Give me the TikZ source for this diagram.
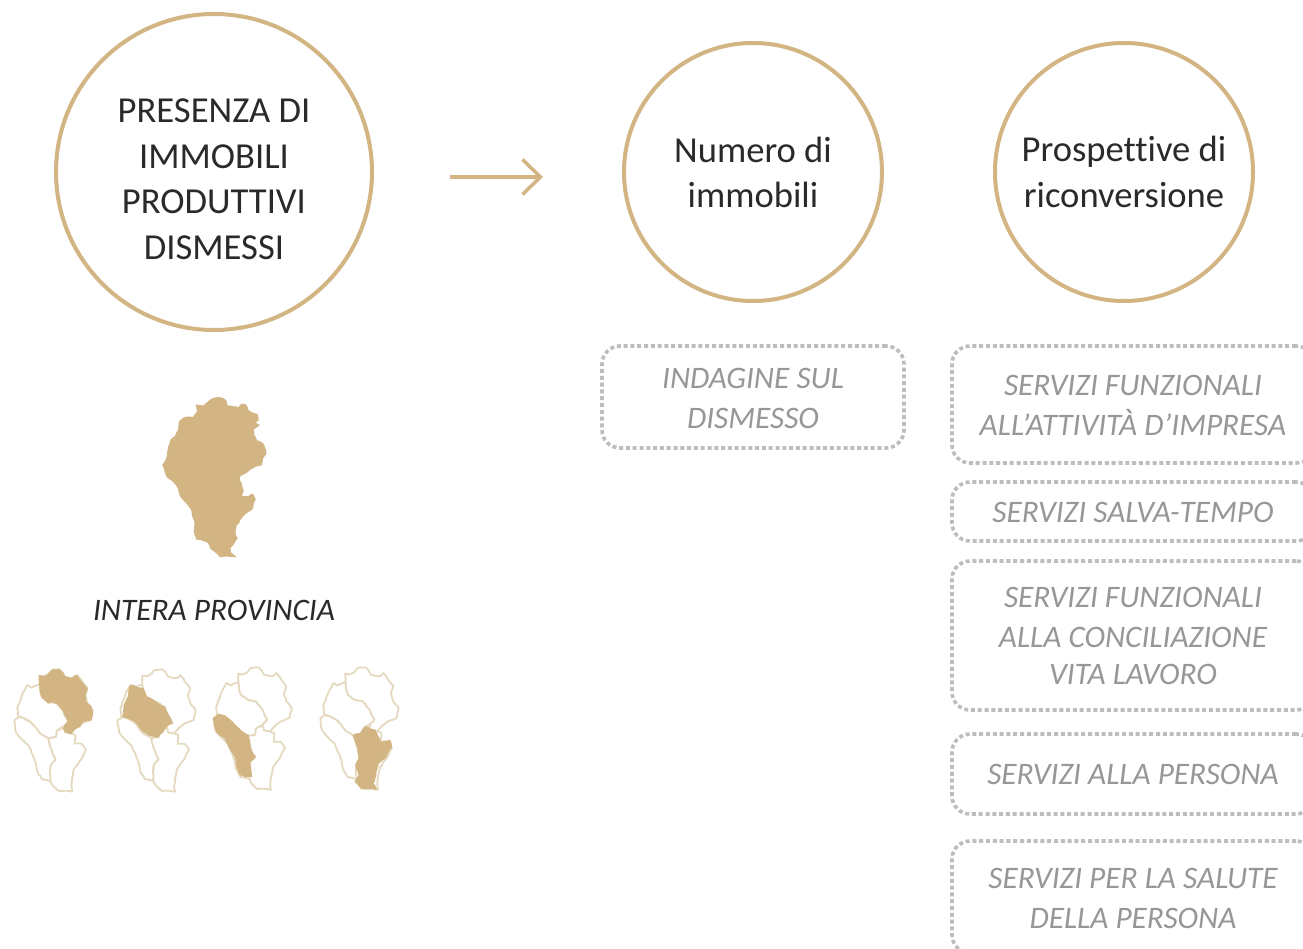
\documentclass[tikz,border=0pt]{standalone}
\usepackage{fontspec}
\setmainfont{Carlito}[Ligatures=NoCommon]
\usetikzlibrary{shapes.misc,arrows.meta,decorations.pathmorphing}
\definecolor{tan}{HTML}{D2B583}
\definecolor{tanline}{HTML}{E5DAC0}
\definecolor{dotgray}{HTML}{BDBDBD}
\definecolor{softgray}{HTML}{979797}
\definecolor{softblack}{HTML}{2A2A2A}
\tikzset{
  ringnode/.style={circle,draw=tan,line width=4pt,inner sep=0pt},
  ringtext/.style={align=center,text=softblack,font=\fontsize{36.6}{45.5}\selectfont},
  dotbox/.style={rectangle,rounded corners=18pt,draw=dotgray,line width=3.6pt,dash pattern=on 4pt off 2.8pt,inner sep=0pt},
  boxtext/.style={solid,draw=none,yshift=-1.5pt,align=center,text=softgray,font=\fontsize{31.3}{40}\selectfont\itshape},
  tanarrow/.style={draw=tan,line width=3.5pt,-{Straight Barb[length=18pt,width=35pt,line width=3.5pt]}},
  rough/.style={decorate,decoration={random steps,segment length=3pt,amplitude=0.4pt}},
  mapfill/.style={fill=tan,draw=tan,line width=0.8pt,line join=round,rough},
  mapline/.style={draw=tanline,line width=1.8pt,line join=round,fill=white,rough},
  fillscope/.style={x=0.3333pt,y=-0.3333pt},
}
% outlines of the small maps, in a common local system
\def\regionNE{(118,62)--(132,64)--(145,58)--(155,45)--(178,43)--(188,52)--(195,65)--(212,70)--(225,68)--(232,60)--(242,72)--(250,85)--(262,100)--(255,120)--(262,145)--(278,165)--(272,195)--(245,205)--(232,215)--(225,222)--(212,237)--(195,232)--(190,222)--(192,213)--(205,200)--(196,185)--(190,170)--(178,155)--(170,145)--(145,140)--(125,125)--(120,110)--(118,88)--cycle}
\def\regionNW{(118,88)--(105,92)--(95,98)--(82,90)--(68,115)--(60,138)--(52,160)--(55,185)--(72,190)--(90,200)--(105,215)--(120,235)--(145,250)--(168,246)--(170,228)--(192,213)--(205,200)--(196,185)--(190,170)--(178,155)--(170,145)--(145,140)--(125,125)--(120,110)--cycle}
\def\regionSW{(43,196)--(58,186)--(72,190)--(90,200)--(105,215)--(120,235)--(145,250)--(150,272)--(158,295)--(167,315)--(153,328)--(150,350)--(156,380)--(145,376)--(125,372)--(112,350)--(106,320)--(86,272)--(65,252)--(48,232)--cycle}
\def\regionSE{(145,250)--(168,246)--(170,228)--(183,221)--(192,218)--(195,232)--(212,235)--(226,240)--(224,266)--(245,266)--(258,284)--(243,314)--(222,342)--(216,372)--(214,392)--(216,410)--(195,407)--(176,408)--(160,394)--(152,380)--(150,350)--(153,328)--(167,315)--(158,295)--(150,272)--cycle}
% filled shapes
\def\fillBig{(205,65)--(215,57)--(235,52)--(250,55)--(258,62)--(262,78)--(280,80)--(295,83)--(305,72)--(318,75)--(325,92)--(340,100)--(352,103)--(355,120)--(345,128)--(358,135)--(340,148)--(342,165)--(350,182)--(368,190)--(375,205)--(378,222)--(368,235)--(365,255)--(345,260)--(330,268)--(315,280)--(300,288)--(298,300)--(305,315)--(310,332)--(305,350)--(325,350)--(338,342)--(346,358)--(340,370)--(338,385)--(325,395)--(312,405)--(300,420)--(288,440)--(285,458)--(292,475)--(282,490)--(270,503)--(272,518)--(288,530)--(262,528)--(240,530)--(225,515)--(212,505)--(205,488)--(185,480)--(170,478)--(162,455)--(165,430)--(158,410)--(155,390)--(135,365)--(120,345)--(115,325)--(100,305)--(82,292)--(75,275)--(68,255)--(80,235)--(85,205)--(92,180)--(105,170)--(115,150)--(118,125)--(135,112)--(160,112)--(172,95)--(168,75)--(190,78)--cycle}
\def\fillNE{(118,62)--(135,65)--(150,52)--(160,44)--(178,44)--(190,55)--(195,65)--(215,70)--(228,60)--(238,72)--(248,85)--(262,100)--(256,120)--(258,140)--(272,152)--(278,168)--(274,195)--(250,200)--(240,215)--(225,222)--(212,237)--(198,232)--(190,222)--(195,210)--(205,200)--(195,180)--(190,168)--(175,148)--(160,140)--(145,145)--(125,125)--(120,105)--cycle}
\def\fillNW{(388,95)--(400,90)--(415,98)--(430,100)--(440,125)--(460,135)--(480,150)--(495,155)--(505,180)--(518,205)--(500,213)--(490,230)--(472,248)--(450,242)--(430,230)--(405,200)--(385,190)--(368,185)--(372,150)--(385,125)--cycle}
\def\fillSW{(25,190)--(40,178)--(60,182)--(75,195)--(95,215)--(115,232)--(130,240)--(135,265)--(140,290)--(152,305)--(135,320)--(138,345)--(140,365)--(120,365)--(105,360)--(95,335)--(92,310)--(70,270)--(60,250)--(35,232)--(28,210)--cycle}
\def\fillSE{(445,240)--(465,235)--(480,215)--(497,222)--(510,225)--(520,245)--(528,262)--(555,255)--(560,275)--(550,290)--(540,310)--(520,325)--(515,345)--(510,370)--(505,385)--(515,403)--(490,400)--(470,402)--(450,380)--(462,360)--(452,330)--(462,310)--(458,280)--cycle}
\newcommand{\smallmap}[2]{%
  \begin{scope}[xshift=#1pt,yshift=-#2pt,x=0.3333pt,y=-0.3333pt]
    \draw[mapline] \regionNE;
    \draw[mapline] \regionNW;
    \draw[mapline] \regionSW;
    \draw[mapline] \regionSE;
  \end{scope}}
\begin{document}
\begin{tikzpicture}[x=1pt,y=-1pt]
\pgfmathsetseed{7}
\useasboundingbox (0,0) rectangle (1303,949);
\clip (0,0) rectangle (1303,949);
\fill[white] (0,0) rectangle (1303,949);

\node[ringnode,minimum size=316pt,label={[ringtext,yshift=-7.5pt]center:PRESENZA DI\\IMMOBILI\\PRODUTTIVI\\DISMESSI}] (presenza) at (214,172) {};
\node[ringnode,minimum size=258pt,label={[ringtext,yshift=-0.5pt]center:Numero di\\immobili}] (numero) at (753,172) {};
\node[ringnode,minimum size=258pt,label={[ringtext]center:Prospettive di\\riconversione}] (prospettive) at (1124,172) {};

\coordinate (arrowstart) at (450,177);
\coordinate (arrowend) at (543,177);
\draw[tanarrow] (arrowstart) -- (arrowend);

\node[dotbox,minimum width=302pt,minimum height=102pt,label={[boxtext]center:INDAGINE SUL\\DISMESSO}] (indagine) at (753,397) {};
\node[dotbox,minimum width=362pt,minimum height=117pt,label={[boxtext,yshift=0.5pt]center:SERVIZI FUNZIONALI\\ALL’ATTIVITÀ D’IMPRESA}] (impresa) at (1133,404.5) {};
\node[dotbox,minimum width=362pt,minimum height=59pt,label={[boxtext,yshift=1pt]center:SERVIZI SALVA-TEMPO}] (salva) at (1133,511.5) {};
\node[dotbox,minimum width=362pt,minimum height=149pt,label={[boxtext,yshift=1.5pt]center:SERVIZI FUNZIONALI\\ALLA CONCILIAZIONE\\[-3pt]VITA LAVORO}] (concilia) at (1133,635.5) {};
\node[dotbox,minimum width=362pt,minimum height=80pt,label={[boxtext,yshift=1pt]center:SERVIZI ALLA PERSONA}] (persona) at (1133,774) {};
\node[dotbox,minimum width=362pt,minimum height=112pt,label={[boxtext]center:SERVIZI PER LA SALUTE\\DELLA PERSONA}] (salute) at (1133,897) {};

\begin{scope}[xshift=140pt,yshift=-380pt,fillscope]
  \path[mapfill] \fillBig;
\end{scope}
\node[font=\fontsize{31.3}{36}\selectfont\itshape,text=softblack] (provincia) at (214,610) {INTERA PROVINCIA};

\smallmap{0}{655}
\smallmap{103}{655}
\smallmap{199}{653}
\smallmap{306}{653}
\begin{scope}[yshift=-655pt,fillscope]
  \path[mapfill] \fillNE;
  \path[mapfill] \fillNW;
\end{scope}
\begin{scope}[xshift=205pt,yshift=-655pt,fillscope]
  \path[mapfill] \fillSW;
  \path[mapfill] \fillSE;
\end{scope}
\end{tikzpicture}
\end{document}
